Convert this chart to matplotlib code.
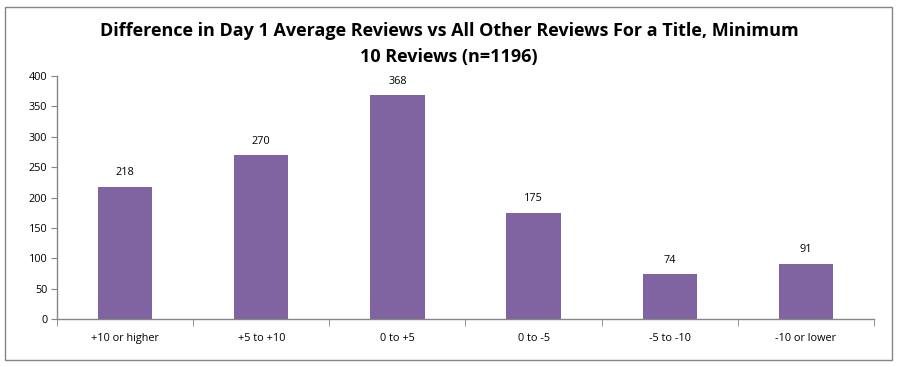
import matplotlib
matplotlib.use("Agg")
import matplotlib.pyplot as plt
from matplotlib.patches import Rectangle

categories = ["+10 or higher", "+5 to +10", "0 to +5", "0 to -5", "-5 to -10", "-10 or lower"]
values = [218, 270, 368, 175, 74, 91]
yticks = [0, 50, 100, 150, 200, 250, 300, 350, 400]
title = "Difference in Day 1 Average Reviews vs All Other Reviews For a Title, Minimum\n10 Reviews (n=1196)"

W, H = 898, 367
fig = plt.figure(figsize=(W / 100, H / 100), dpi=100)
fig.patches.append(Rectangle((5 / W, 7 / H), 887 / W, 353 / H, transform=fig.transFigure,
                             fill=False, edgecolor="#868686", linewidth=1.0))
ax = fig.add_axes([57 / W, (H - 319) / H, (874 - 57) / W, (319 - 76) / H])

xs = list(range(len(categories)))
ax.bar(xs, values, width=0.4, color="#8064A2")
for x, v in zip(xs, values):
    ax.annotate(str(v), (x, v), xytext=(0, 6), textcoords="offset points",
                ha="center", va="bottom", fontsize=7.8, family="Open Sans")

ax.set_xlim(-0.5, len(categories) - 0.5)
ax.set_ylim(0, 400)
ax.set_yticks(yticks)
ax.set_yticklabels([str(t) for t in yticks], fontsize=7.8, family="Open Sans")
ax.set_xticks(xs)
ax.set_xticklabels(categories, fontsize=7.8, family="Open Sans")
ax.set_xticks([i - 0.5 for i in range(len(categories) + 1)], minor=True)
ax.tick_params(axis="x", which="major", length=0, pad=10)
ax.tick_params(axis="x", which="minor", length=5, color="#868686", direction="out")
ax.tick_params(axis="y", length=4, color="#868686", direction="out", pad=3)
for s in ["top", "right"]:
    ax.spines[s].set_visible(False)
for s in ["left", "bottom"]:
    ax.spines[s].set_color("#868686")
    ax.spines[s].set_linewidth(1.0)

fig.text(449 / W, 1 - 44 / H, title, ha="center", va="center", fontsize=13,
         fontweight="bold", family="Open Sans", linespacing=1.6)

fig.savefig("out.png", dpi=100)
